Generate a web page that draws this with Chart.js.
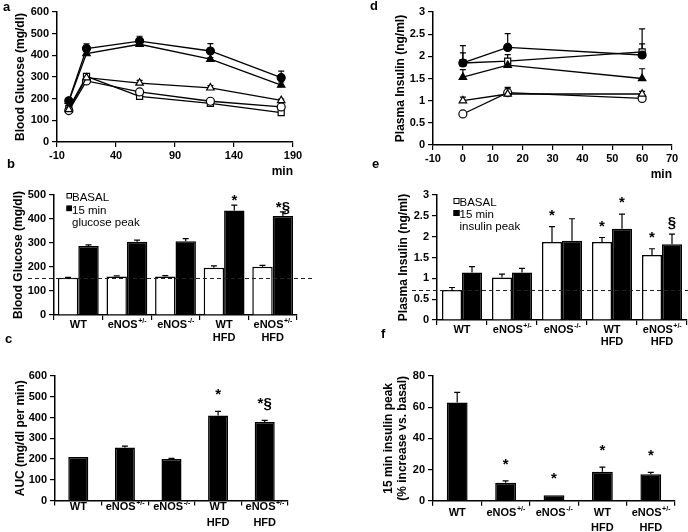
<!DOCTYPE html>
<html>
<head>
<meta charset="utf-8">
<script src="https://cdn.jsdelivr.net/npm/chart.js@4.4.1/dist/chart.umd.min.js"></script>
<style>
  html, body { margin: 0; padding: 0; background: #fff; }
  #wrap { position: relative; width: 688px; height: 532px; }
  #wrap canvas { position: absolute; left: 0; top: 0; }
</style>
</head>
<body>
<div id="wrap">
  <canvas id="ca" width="688" height="532"></canvas>
  <canvas id="cb" width="688" height="532"></canvas>
  <canvas id="cc" width="688" height="532"></canvas>
  <canvas id="cd" width="688" height="532"></canvas>
  <canvas id="ce" width="688" height="532"></canvas>
  <canvas id="cf" width="688" height="532"></canvas>
</div>
<script>
// groups on the bar panels
const groups = ['WT', 'eNOS+/-', 'eNOS-/-', 'WT\nHFD', 'eNOS+/-\nHFD'];

// a: glucose tolerance test (mg/dl)
const gttTime = [0, 15, 60, 120, 180];
const gttWT = [145, 282, 231, 188, 162];
const gttHet = [150, 297, 272, 250, 192];
const gttKO = [155, 303, 211, 178, 136];
const gttWTHFD = [190, 431, 466, 420, 297];
const gttHetHFD = [188, 408, 451, 382, 263];
const gttErrWT = [3, 5, 5, 5, 4];
const gttErrHet = [3, 6, 12, 10, 6];
const gttErrKO = [3, 5, 5, 5, 4];
const gttErrWTHFD = [5, 22, 22, 34, 30];
const gttErrHetHFD = [5, 8, 8, 8, 14];

// b: basal vs 15 min glucose peak
const glucBasal = [155, 160, 160, 197, 201];
const glucBasalErr = [2, 3, 4, 8, 6];
const glucPeak = [288, 305, 307, 435, 412];
const glucPeakErr = [4, 7, 11, 23, 18];
const glucPeakMarks = ['', '', '', '*', '*§'];
const glucRef = 155;

// c: area under curve
const auc = [210, 255, 200, 410, 378];
const aucErr = [0, 7, 3, 20, 8];
const aucMarks = ['', '', '', '*', '*§'];

// d: plasma insulin (ng/ml)
const insTime = [0, 15, 60];
const insWT = [0.70, 1.18, 1.05];
const insHet = [1.0, 1.15, 1.15];
const insKO = [1.85, 1.89, 2.1];
const insWTHFD = [1.85, 2.2, 2.03];
const insHetHFD = [1.53, 1.8, 1.5];
const insErrWT = [0.03, 0.1, 0.05];
const insErrHet = [0.08, 0.15, 0.06];
const insErrKO = [0.39, 0.15, 0.52];
const insErrWTHFD = [0.23, 0.31, 0.25];
const insErrHetHFD = [0.17, 0.05, 0.22];

// e: basal vs 15 min insulin peak
const insBasal = [0.72, 1.02, 1.87, 1.87, 1.56];
const insBasalErr = [0.06, 0.08, 0.37, 0.11, 0.15];
const insPeak = [1.14, 1.14, 1.9, 2.19, 1.82];
const insPeakErr = [0.14, 0.1, 0.53, 0.35, 0.24];
const insBasalMarks = ['', '', '*', '*', '*'];
const insPeakMarks = ['', '', '', '*', '§'];
const insRef = 0.73;

// f: % increase vs basal
const insIncrease = [63, 11.5, 3.5, 18.5, 17];
const insIncreaseErr = [6.5, 1.2, 0, 3, 1.2];
const insIncreaseMarks = ['', '*', '*', '*', '*'];

const FONT = '"Liberation Sans", Arial, Helvetica, sans-serif';
Chart.defaults.font.family = FONT;
Chart.defaults.color = '#000';

// error bars (upward only) plus * / § marks over them
const errorBars = {
    id: 'errorBars',
    beforeDatasetsDraw(chart, args, o) {
        if (!o || !o.errors) return;
        const ctx = chart.ctx;
        const ys = chart.scales.y;
        ctx.save();
        ctx.strokeStyle = '#000';
        ctx.lineWidth = 1.2;
        o.errors.forEach((errs, di) => {
            if (!errs) return;
            const meta = chart.getDatasetMeta(di);
            const data = chart.data.datasets[di].data;
            meta.data.forEach((el, i) => {
                const e = errs[i];
                if (!e) return;
                const v = typeof data[i] === 'object' ? data[i].y : data[i];
                const y0 = ys.getPixelForValue(v);
                const y1 = ys.getPixelForValue(v + e);
                ctx.beginPath();
                ctx.moveTo(el.x, y0);
                ctx.lineTo(el.x, y1);
                ctx.moveTo(el.x - o.cap, y1);
                ctx.lineTo(el.x + o.cap, y1);
                ctx.stroke();
            });
        });
        ctx.restore();
    },
    afterDatasetsDraw(chart, args, o) {
        if (!o || !o.marks) return;
        const ctx = chart.ctx;
        const ys = chart.scales.y;
        ctx.save();
        ctx.fillStyle = '#000';
        ctx.font = 'bold 15px ' + FONT;
        ctx.textAlign = 'center';
        ctx.textBaseline = 'alphabetic';
        o.marks.forEach((marks, di) => {
            if (!marks) return;
            const meta = chart.getDatasetMeta(di);
            const data = chart.data.datasets[di].data;
            const errs = (o.errors && o.errors[di]) || [];
            meta.data.forEach((el, i) => {
                if (!marks[i]) return;
                const top = ys.getPixelForValue(data[i] + (errs[i] || 0));
                ctx.fillText(marks[i], el.x, top - o.gap + 8);
            });
        });
        ctx.restore();
    }
};

// dashed reference line
const refLine = {
    id: 'refLine',
    afterDatasetsDraw(chart, args, o) {
        if (!o || o.value === undefined) return;
        const ctx = chart.ctx;
        const y = Math.round(chart.scales.y.getPixelForValue(o.value)) + 0.5;
        ctx.save();
        ctx.strokeStyle = '#222';
        ctx.lineWidth = 1.2;
        ctx.setLineDash([4, 3]);
        ctx.beginPath();
        ctx.moveTo(o.x0, y);
        ctx.lineTo(o.x1, y);
        ctx.stroke();
        ctx.restore();
    }
};

// group names under the bars, with superscript genotype
const catLabels = {
    id: 'catLabels',
    afterDraw(chart, args, o) {
        if (!o || !o.names) return;
        const ctx = chart.ctx;
        const xs = chart.scales.x;
        const bottom = chart.chartArea.bottom;
        ctx.save();
        ctx.fillStyle = '#000';
        ctx.textBaseline = 'middle';
        ctx.textAlign = 'left';
        o.names.forEach((name, i) => {
            const cx = xs.getPixelForValue(i);
            name.split('\n').forEach((line, k) => {
                const y = bottom + (k === 0 ? o.dy1 : o.dy2);
                const m = line.match(/^(.*?)([+-]\/-)$/);
                const base = m ? m[1] : line;
                const sup = m ? m[2] : '';
                ctx.font = 'bold 11px ' + FONT;
                const wb = ctx.measureText(base).width;
                ctx.font = 'bold 7px ' + FONT;
                const ws = sup ? ctx.measureText(sup).width : 0;
                const x = cx - (wb + ws) / 2;
                ctx.font = 'bold 11px ' + FONT;
                ctx.fillText(base, x, y);
                if (sup) {
                    ctx.font = 'bold 7px ' + FONT;
                    ctx.fillText(sup, x + wb + 0.5, y - 3.5);
                }
            });
        });
        ctx.restore();
    }
};

// small box legend inside the plot
const boxLegend = {
    id: 'boxLegend',
    afterDraw(chart, args, o) {
        if (!o || !o.items) return;
        const ctx = chart.ctx;
        ctx.save();
        ctx.font = '11.5px ' + FONT;
        ctx.textBaseline = 'alphabetic';
        ctx.textAlign = 'left';
        o.items.forEach((it, k) => {
            const base = o.y + k * o.lh;
            if (it.box) {
                ctx.fillStyle = it.box;
                ctx.strokeStyle = '#000';
                ctx.lineWidth = 1;
                ctx.fillRect(o.x, base - 8, o.size, o.size);
                ctx.strokeRect(o.x + 0.5, base - 7.5, o.size - 1, o.size - 1);
            }
            ctx.fillStyle = '#000';
            ctx.fillText(it.text, o.tx, base);
        });
        ctx.restore();
    }
};

// panel letter
const tag = {
    id: 'tag',
    afterDraw(chart, args, o) {
        if (!o || !o.text) return;
        const ctx = chart.ctx;
        ctx.save();
        ctx.fillStyle = '#000';
        ctx.font = 'bold 13px ' + FONT;
        ctx.textAlign = 'left';
        ctx.textBaseline = 'alphabetic';
        ctx.fillText(o.text, o.x, o.y);
        ctx.restore();
    }
};

Chart.register(errorBars, refLine, catLabels, boxLegend, tag);

function axisY(o) {
    const ticks = { stepSize: o.step, color: '#000', padding: 3, font: { size: 11, weight: 'bold' } };
    if (o.cb) ticks.callback = o.cb;
    return {
        min: o.min,
        max: o.max,
        afterFit: s => { s.width = o.width; },
        border: { color: '#000', width: 1.5 },
        grid: { drawOnChartArea: false, color: '#000', tickLength: 5, lineWidth: 1.2 },
        ticks: ticks,
        title: {
            display: true, text: o.title, color: '#000',
            font: { size: 12, weight: 'bold', lineHeight: 1.2 },
            padding: { top: 5, bottom: 0 }
        }
    };
}

function axisXTime(min, max, step, height) {
    return {
        type: 'linear',
        min: min,
        max: max,
        afterFit: s => { s.height = height; },
        border: { color: '#000', width: 1.5 },
        grid: { drawOnChartArea: false, color: '#000', tickLength: 5, lineWidth: 1.2 },
        ticks: { stepSize: step, color: '#000', padding: 2, maxRotation: 0, autoSkip: false, font: { size: 11, weight: 'bold' } },
        title: { display: true, text: 'min', align: 'end', color: '#000', font: { size: 12, weight: 'bold' }, padding: { top: 0, bottom: 0 } }
    };
}

function axisXGroups(height) {
    return {
        afterFit: s => { s.height = height; },
        border: { color: '#000', width: 1.5 },
        grid: { drawOnChartArea: false, color: '#000', tickLength: 5, lineWidth: 1.2 },
        ticks: { callback: () => '', maxRotation: 0, autoSkip: false }
    };
}

// 0.5 steps without trailing zeros: 3, 2.5, 2 ...
const halfSteps = v => +v.toFixed(1);

function series(label, xs, ys, shape, fill, r) {
    return {
        label: label,
        data: xs.map((t, i) => ({ x: t, y: ys[i] })),
        borderColor: '#000',
        borderWidth: 1.3,
        tension: 0,
        pointStyle: shape,
        pointRadius: r,
        pointBackgroundColor: fill,
        pointBorderColor: '#000',
        pointBorderWidth: 1.2
    };
}

function barSet(label, values, fill, pct) {
    return {
        label: label,
        data: values,
        backgroundColor: fill,
        borderColor: '#000',
        borderWidth: 1.5,
        barPercentage: pct.bar,
        categoryPercentage: pct.cat
    };
}

const noUi = { legend: { display: false }, tooltip: { enabled: false } };

// a
new Chart(document.getElementById('ca'), {
    type: 'line',
    data: {
        datasets: [
            series('WT HFD', gttTime, gttWTHFD, 'circle', '#000', 4),
            series('eNOS+/- HFD', gttTime, gttHetHFD, 'triangle', '#000', 4.3),
            series('eNOS+/-', gttTime, gttHet, 'triangle', '#fff', 4.3),
            series('WT', gttTime, gttWT, 'circle', '#fff', 4),
            series('eNOS-/-', gttTime, gttKO, 'rect', '#fff', 4.3)
        ]
    },
    options: {
        responsive: false,
        animation: false,
        layout: { padding: { left: 8, top: 12, right: 395, bottom: 353 } },
        scales: {
            x: axisXTime(-10, 190, 50, 37),
            y: axisY({ min: 0, max: 600, step: 100, width: 49, title: 'Blood Glucose (mg/dl)' })
        },
        plugins: {
            ...noUi,
            errorBars: { errors: [gttErrWTHFD, gttErrHetHFD, gttErrHet, gttErrWT, gttErrKO], cap: 3 },
            tag: { text: 'a', x: 3, y: 11 }
        }
    }
});

// b
new Chart(document.getElementById('cb'), {
    type: 'bar',
    data: {
        labels: groups,
        datasets: [
            barSet('BASAL', glucBasal, '#fff', { bar: 1, cat: 0.84 }),
            barSet('15 min glucose peak', glucPeak, '#000', { bar: 1, cat: 0.84 })
        ]
    },
    options: {
        responsive: false,
        animation: false,
        layout: { padding: { left: 6, top: 195, right: 391, bottom: 187 } },
        scales: {
            x: axisXGroups(30),
            y: axisY({ min: 0, max: 500, step: 50, width: 48, title: 'Blood Glucose (mg/dl)',
                       cb: v => (v % 100 === 0 ? v : '') })
        },
        plugins: {
            ...noUi,
            errorBars: { errors: [glucBasalErr, glucPeakErr], marks: [null, glucPeakMarks], cap: 3, gap: 8 },
            refLine: { value: glucRef, x0: 28, x1: 312 },
            catLabels: { names: groups, dy1: 10, dy2: 23 },
            boxLegend: {
                x: 66.5, tx: 72, y: 201, lh: 12.6, size: 5.5,
                items: [{ box: '#fff', text: 'BASAL' }, { box: '#000', text: '15 min' }, { box: null, text: 'glucose peak' }]
            },
            tag: { text: 'b', x: 7, y: 168 }
        }
    }
});

// c
new Chart(document.getElementById('cc'), {
    type: 'bar',
    data: {
        labels: groups,
        datasets: [barSet('AUC', auc, '#000', { bar: 0.43, cat: 1 })]
    },
    options: {
        responsive: false,
        animation: false,
        layout: { padding: { left: 8, top: 376, right: 400, bottom: 1.5 } },
        scales: {
            x: axisXGroups(30),
            y: axisY({ min: 0, max: 600, step: 100, width: 47, title: 'AUC (mg/dl per min)' })
        },
        plugins: {
            ...noUi,
            errorBars: { errors: [aucErr], marks: [aucMarks], cap: 3, gap: 20 },
            catLabels: { names: groups, dy1: 6, dy2: 22.5 },
            tag: { text: 'c', x: 5, y: 343 }
        }
    }
});

// d
new Chart(document.getElementById('cd'), {
    type: 'line',
    data: {
        datasets: [
            series('WT HFD', insTime, insWTHFD, 'circle', '#000', 4),
            series('eNOS+/- HFD', insTime, insHetHFD, 'triangle', '#000', 4.3),
            series('eNOS+/-', insTime, insHet, 'triangle', '#fff', 4.3),
            series('WT', insTime, insWT, 'circle', '#fff', 4),
            series('eNOS-/-', insTime, insKO, 'rect', '#fff', 4.3)
        ]
    },
    options: {
        responsive: false,
        animation: false,
        layout: { padding: { left: 388, top: 12, right: 16, bottom: 350 } },
        scales: {
            x: axisXTime(-10, 70, 10, 37),
            y: axisY({ min: 0, max: 3, step: 0.5, width: 45, title: 'Plasma Insulin (ng/ml)', cb: halfSteps })
        },
        plugins: {
            ...noUi,
            errorBars: { errors: [insErrWTHFD, insErrHetHFD, insErrHet, insErrWT, insErrKO], cap: 3 },
            tag: { text: 'd', x: 370, y: 10 }
        }
    }
});

// e
new Chart(document.getElementById('ce'), {
    type: 'bar',
    data: {
        labels: groups,
        datasets: [
            barSet('BASAL', insBasal, '#fff', { bar: 1, cat: 0.8 }),
            barSet('15 min insulin peak', insPeak, '#000', { bar: 1, cat: 0.8 })
        ]
    },
    options: {
        responsive: false,
        animation: false,
        layout: { padding: { left: 391, top: 195, right: 1, bottom: 182 } },
        scales: {
            x: axisXGroups(30),
            y: axisY({ min: 0, max: 3, step: 0.5, width: 46, title: 'Plasma Insulin (ng/ml)', cb: halfSteps })
        },
        plugins: {
            ...noUi,
            errorBars: { errors: [insBasalErr, insPeakErr], marks: [insBasalMarks, insPeakMarks], cap: 3, gap: 15 },
            refLine: { value: insRef, x0: 412, x1: 688 },
            catLabels: { names: groups, dy1: 9.5, dy2: 22 },
            boxLegend: {
                x: 453.5, tx: 459.5, y: 206, lh: 12, size: 6,
                items: [{ box: '#fff', text: 'BASAL' }, { box: '#000', text: '15 min' }, { box: null, text: 'insulin peak' }]
            },
            tag: { text: 'e', x: 372, y: 168 }
        }
    }
});

// f
new Chart(document.getElementById('cf'), {
    type: 'bar',
    data: {
        labels: groups,
        datasets: [barSet('15 min insulin peak', insIncrease, '#000', { bar: 0.43, cat: 1 })]
    },
    options: {
        responsive: false,
        animation: false,
        layout: { padding: { left: 376, top: 376, right: 13, bottom: 1.3 } },
        scales: {
            x: axisXGroups(30),
            y: axisY({ min: 0, max: 80, step: 20, width: 57,
                       title: ['15 min insulin peak', '(% increase vs. basal)'] })
        },
        plugins: {
            ...noUi,
            errorBars: { errors: [insIncreaseErr], marks: [insIncreaseMarks], cap: 3, gap: 20 },
            catLabels: { names: groups, dy1: 12.3, dy2: 26.8 },
            tag: { text: 'f', x: 381, y: 338 }
        }
    }
});
</script>
</body>
</html>
